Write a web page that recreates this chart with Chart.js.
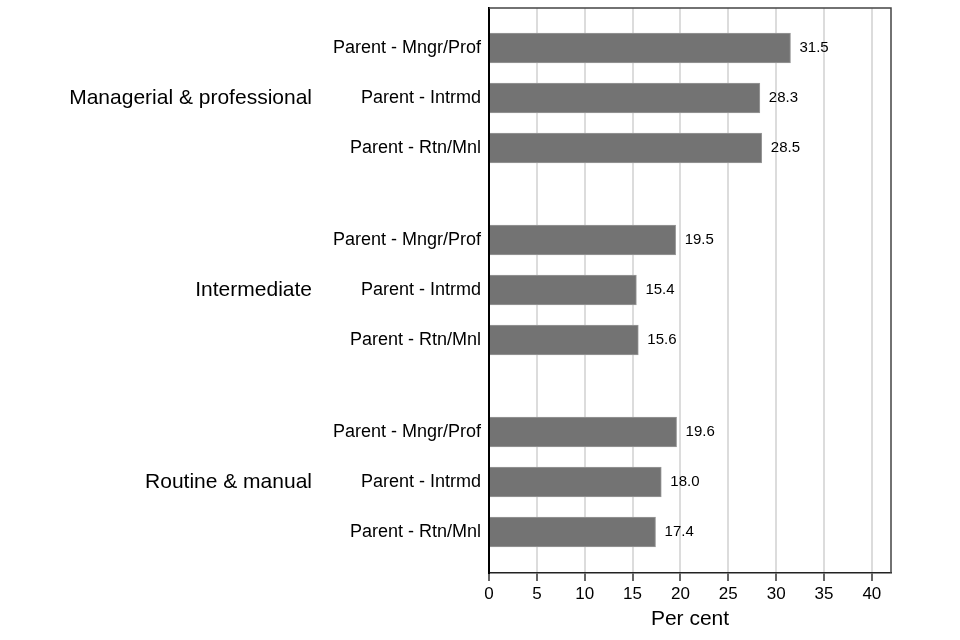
<!DOCTYPE html>
<html>
<head>
<meta charset="utf-8">
<script src="https://cdn.jsdelivr.net/npm/chart.js@4/dist/chart.umd.min.js"></script>
<style>
  html, body { margin: 0; padding: 0; background: #fff; }
  #wrap { width: 960px; height: 640px; position: relative; }
</style>
</head>
<body>
<div id="wrap"><canvas id="chart"></canvas></div>
<script>
// chart data
const groups = ["Managerial & professional", "Intermediate", "Routine & manual"];
const parents = ["Parent - Mngr/Prof", "Parent - Intrmd", "Parent - Rtn/Mnl"];
const managerialValues = [31.5, 28.3, 28.5];
const intermediateValues = [19.5, 15.4, 15.6];
const routineValues = [19.6, 18.0, 17.4];
const xTicks = [0, 5, 10, 15, 20, 25, 30, 35, 40];

const groupValues = [managerialValues, intermediateValues, routineValues];
const GROUP_GAP = 0.84; // extra blank space between groups (in row units)
const FONT = "'Liberation Sans', Arial, sans-serif";

// build rows: one per (group, parent), row position from its order
const rows = [];
groups.forEach((g, gi) => {
  parents.forEach((p, pi) => {
    rows.push({ pos: gi * (3 + GROUP_GAP) + pi, label: p, value: groupValues[gi][pi], group: gi });
  });
});

const labelByPos = {};
rows.forEach(r => { labelByPos[r.pos.toFixed(2)] = r.label; });

// value labels at the end of each bar
const valueLabels = {
  id: "valueLabels",
  afterDatasetsDraw(chart) {
    const ctx = chart.ctx;
    const meta = chart.getDatasetMeta(0);
    ctx.save();
    ctx.font = "15px " + FONT;
    ctx.fillStyle = "#000";
    ctx.textAlign = "left";
    ctx.textBaseline = "middle";
    meta.data.forEach((bar, i) => {
      ctx.fillText(rows[i].value.toFixed(1), bar.x + 9, bar.y);
    });
    ctx.restore();
  }
};

// group labels on the far left + top/right frame
const extras = {
  id: "extras",
  afterDraw(chart) {
    const ctx = chart.ctx;
    const y = chart.scales.y;
    const a = chart.chartArea;
    ctx.save();
    ctx.font = "21px " + FONT;
    ctx.fillStyle = "#000";
    ctx.textAlign = "right";
    ctx.textBaseline = "middle";
    groups.forEach((g, gi) => {
      const mid = rows.filter(r => r.group === gi)[1].pos;
      ctx.fillText(g, 312, y.getPixelForValue(mid));
    });
    ctx.strokeStyle = "#444";
    ctx.lineWidth = 1.5;
    ctx.beginPath();
    ctx.moveTo(a.left, a.top);
    ctx.lineTo(a.right, a.top);
    ctx.lineTo(a.right, a.bottom);
    ctx.stroke();
    ctx.restore();
  }
};

new Chart(document.getElementById("chart"), {
  type: "bar",
  data: {
    datasets: [{
      data: rows.map(r => ({ x: r.value, y: r.pos })),
      backgroundColor: "#737373",
      borderColor: "#9a9a9a",
      borderWidth: 1,
      barThickness: 30
    }]
  },
  options: {
    indexAxis: "y",
    responsive: true,
    maintainAspectRatio: false,
    animation: false,
    layout: { padding: { top: 8, right: 69, left: 0, bottom: 0 } },
    plugins: { legend: { display: false }, tooltip: { enabled: false } },
    scales: {
      x: {
        type: "linear",
        min: 0,
        max: 42,
        afterBuildTicks: s => { s.ticks = xTicks.map(v => ({ value: v })); },
        afterFit: s => { s.height = 67; s.paddingLeft = 0; s.paddingRight = 0; },
        ticks: { font: { size: 17, family: FONT }, color: "#000", padding: 3 },
        grid: { color: "#dcdcdc", lineWidth: 2, tickLength: 8, tickColor: "#333", tickWidth: 1.5 },
        border: { color: "#222", width: 1.5 },
        title: { display: true, text: "Per cent", font: { size: 21, family: FONT }, color: "#000", padding: { top: 0, bottom: 8 } }
      },
      y: {
        type: "linear",
        reverse: true,
        offset: false,
        min: -0.8,
        max: 10.5,
        afterBuildTicks: s => { s.ticks = rows.map(r => ({ value: r.pos })); },
        afterFit: s => { s.width = 489; s.paddingTop = 0; s.paddingBottom = 0; },
        ticks: {
          font: { size: 18, family: FONT },
          color: "#000",
          padding: 8,
          callback: v => labelByPos[Number(v).toFixed(2)] || ""
        },
        grid: { display: false, drawTicks: false, offset: false },
        border: { color: "#000", width: 2 }
      }
    }
  },
  plugins: [valueLabels, extras]
});
</script>
</body>
</html>
